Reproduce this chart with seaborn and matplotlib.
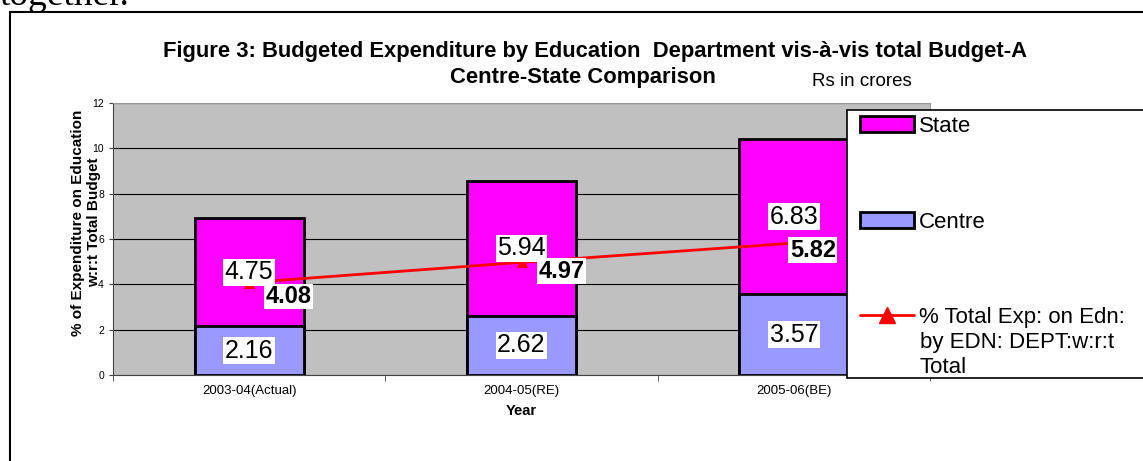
import numpy as np
import pandas as pd
import matplotlib
matplotlib.use("Agg")
import matplotlib.pyplot as plt
from matplotlib.patches import Rectangle, Patch
from matplotlib.lines import Line2D
import seaborn as sns

# data
years = ["2003-04(Actual)", "2004-05(RE)", "2005-06(BE)"]
centre = [2.16, 2.62, 3.57]
state = [4.75, 5.94, 6.83]
pct_total = [4.08, 4.97, 5.82]

sns.set_style("white")
plt.rcParams['font.family'] = ['Liberation Sans', 'DejaVu Sans']
plt.rcParams['text.color'] = 'black'
plt.rcParams['axes.labelcolor'] = 'black'
plt.rcParams['xtick.color'] = 'black'
plt.rcParams['ytick.color'] = 'black'

df = pd.DataFrame({"Year": years, "Centre": centre, "State": state, "Pct": pct_total})
df["Total"] = df["Centre"] + df["State"]

fig = plt.figure(figsize=(11.43, 4.61), dpi=100)
W, H = 1143, 461

# outer chart frame and a bit of the document text above it
fig.patches.append(Rectangle((10 / W, -0.05), 1.1, 1 - 12 / H + 0.05, transform=fig.transFigure,
                             facecolor="white", edgecolor="black", linewidth=1.5, zorder=-1))
fig.text(0.0, 1 - 5 / H, "together.", fontsize=27, family=["Liberation Serif", "DejaVu Serif"],
         va="baseline", ha="left")

ax = fig.add_axes([113 / W, 1 - 375 / H, (930 - 113) / W, (375 - 103) / H])
ax.set_facecolor("#C0C0C0")

# stacked bars: total (state colour) then centre over it
sns.barplot(data=df, x="Year", y="Total", color="#FF00FF", width=0.4, saturation=1,
            edgecolor="black", linewidth=2, ax=ax, zorder=3)
sns.barplot(data=df, x="Year", y="Centre", color="#9999FF", width=0.4, saturation=1,
            edgecolor="black", linewidth=2, ax=ax, zorder=3)

# line of % total exp
sns.lineplot(x=np.arange(len(years)), y=df["Pct"], color="red", linewidth=2, marker="^",
             markersize=7, markeredgecolor="red", ax=ax, zorder=5)

# value labels
line_offsets = [(16, -14), (17, -9), (-4, -7)]
for i in range(len(years)):
    ax.text(i, centre[i] / 2, f"{centre[i]:.2f}", ha="center", va="center", fontsize=18,
            bbox=dict(facecolor="white", edgecolor="none", pad=1), zorder=6)
    ax.text(i, centre[i] + state[i] / 2, f"{state[i]:.2f}", ha="center", va="center", fontsize=18,
            bbox=dict(facecolor="white", edgecolor="none", pad=1), zorder=6)
    ax.annotate(f"{pct_total[i]:.2f}", (i, pct_total[i]), xytext=line_offsets[i],
                textcoords="offset pixels", ha="left", va="center", fontsize=17,
                fontweight="bold", bbox=dict(facecolor="white", edgecolor="none", pad=1), zorder=7)

ax.set_ylim(0, 12)
ax.set_xlim(-0.5, 2.5)
ax.set_yticks(range(0, 13, 2))
ax.yaxis.grid(True, color="black", linewidth=0.8)
ax.set_axisbelow(True)
ax.tick_params(axis="y", labelsize=7.5, length=3, direction="out", left=True, color="#444444")
ax.tick_params(axis="x", labelsize=9.5, length=0, pad=7)
ax.set_xticks([-0.5, 0.5, 1.5, 2.5], minor=True)
ax.tick_params(axis="x", which="minor", length=4, bottom=True, color="#444444")
for s in ["left", "bottom"]:
    ax.spines[s].set_color("#444444")
for s in ["top", "right"]:
    ax.spines[s].set_color("#999999")

ax.set_xlabel("Year", fontsize=10.5, fontweight="bold", labelpad=5)
ax.set_ylabel("% of Expenditure on Education\nw:r:t Total Budget", fontsize=11,
              fontweight="bold")
ax.yaxis.set_label_coords(-0.015, 0.56)

fig.text(595 / W, 1 - 52 / H,
         "Figure 3: Budgeted Expenditure by Education  Department vis-à-vis total Budget-A",
         ha="center", va="center", fontsize=15.8, fontweight="bold")
fig.text(583 / W, 1 - 78 / H, "Centre-State Comparison", ha="center", va="center",
         fontsize=15.8, fontweight="bold")
fig.text(862 / W, 1 - 81 / H, "Rs in crores", ha="center", va="center", fontsize=13.5)

# legend box
fig.patches.append(Rectangle((847 / W, 1 - 378 / H), 0.4, (378 - 110) / H, transform=fig.transFigure,
                             facecolor="white", edgecolor="black", linewidth=1.2, zorder=8))
handles = [Patch(facecolor="#FF00FF", edgecolor="black", linewidth=2),
           Patch(facecolor="#9999FF", edgecolor="black", linewidth=2),
           Line2D([], [], color="red", linewidth=2, marker="^", markersize=12)]
labels = ["State", "Centre", "% Total Exp: on Edn:"]
leg = fig.legend(handles, labels, loc="upper left", bbox_to_anchor=(851 / W, 1 - 107 / H),
                 frameon=False, fontsize=16, labelspacing=3.36, handlelength=2.43,
                 handleheight=0.7, handletextpad=0.23, borderaxespad=0)
leg.set_zorder(9)
fig.text(920 / W, 1 - 355 / H, "by EDN: DEPT:w:r:t\nTotal", fontsize=16, ha="left", va="center",
         linespacing=1.3, zorder=10)

fig.savefig("out.png", dpi=100)
